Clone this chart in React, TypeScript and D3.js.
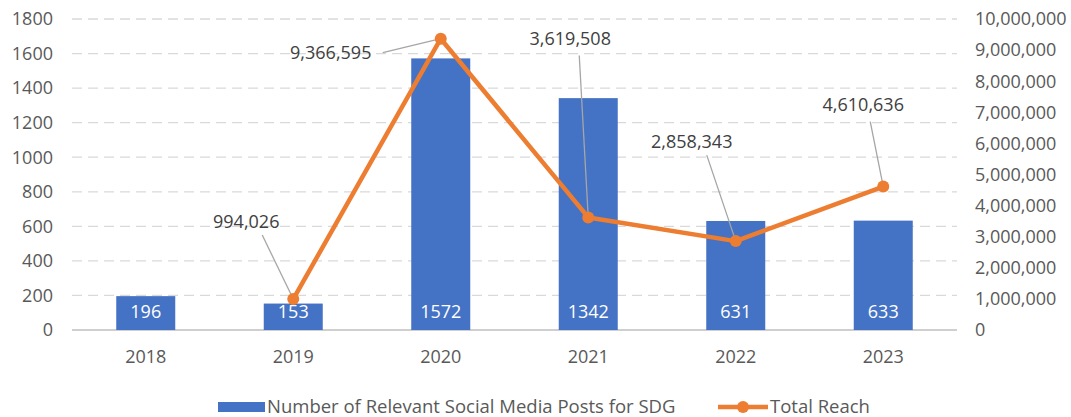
import React from "react";
import * as d3 from "d3";

const years = ["2018", "2019", "2020", "2021", "2022", "2023"];
const posts = [196, 153, 1572, 1342, 631, 633];
const reach = [null, 994026, 9366595, 3619508, 2858343, 4610636];
const leftTicks = [0, 200, 400, 600, 800, 1000, 1200, 1400, 1600, 1800];
const rightTicks = [0, 1000000, 2000000, 3000000, 4000000, 5000000, 6000000, 7000000, 8000000, 9000000, 10000000];
const seriesNames = ["Number of Relevant Social Media Posts for SDG", "Total Reach"];

// layout: label center offsets and leader start offsets relative to point
const labelOffsets: ([number, number] | null)[] = [null, [-47, -77], [-110, 14], [-18, -179], [-44, -99], [-20, -82]];
const leaderOffsets: ([number, number] | null)[] = [null, [-31, -64], [-58, 14], [-9, -162], [-29, -86], [-13, -65]];

const W = 1071, H = 417;
const M = { left: 72, right: 957, top: 19, bottom: 330 };
const FONT = "'Open Sans', sans-serif";
const BLUE = "#4472C4", ORANGE = "#ED7D31", TXT = "#595959", GRID = "#D9D9D9";

export default function App() {
  const x = d3.scaleBand().domain(years).range([M.left, M.right]).paddingInner(0.6).paddingOuter(0.3);
  const xc = (y: string) => (x(y) as number) + x.bandwidth() / 2;
  const yL = d3.scaleLinear().domain([0, 1800]).range([M.bottom, M.top]);
  const yR = d3.scaleLinear().domain([0, 10000000]).range([M.bottom, M.top]);
  const fmt = d3.format(",");
  const pts = years.map((yr, i) => ({ yr, v: reach[i], i })).filter((d) => d.v != null) as { yr: string; v: number; i: number }[];
  const line = d3.line<{ yr: string; v: number }>().x((d) => xc(d.yr)).y((d) => yR(d.v));

  return (
    <svg width={W} height={H} style={{ position: "absolute", left: 0, top: 0, background: "#fff" }} fontFamily={FONT}>
      {leftTicks.filter((t) => t > 0).map((t) => (
        <line key={t} x1={M.left} x2={M.right} y1={yL(t)} y2={yL(t)} stroke={GRID} strokeWidth={1.3} strokeDasharray="10,6" />
      ))}
      <line x1={M.left} x2={M.right} y1={M.bottom} y2={M.bottom} stroke="#BFBFBF" strokeWidth={1.3} />
      {leftTicks.map((t) => (
        <text key={t} x={53} y={yL(t)} dy="0.35em" textAnchor="end" fontSize={18} fill={TXT}>{t}</text>
      ))}
      {rightTicks.map((t) => (
        <text key={t} x={975} y={yR(t)} dy="0.35em" textAnchor="start" fontSize={18} fill={TXT}>{fmt(t)}</text>
      ))}
      {years.map((yr) => (
        <text key={yr} x={xc(yr)} y={357} dy="0.35em" textAnchor="middle" fontSize={18} fill={TXT}>{yr}</text>
      ))}
      {years.map((yr, i) => (
        <rect key={yr} x={x(yr)} y={yL(posts[i])} width={x.bandwidth()} height={M.bottom - yL(posts[i])} fill={BLUE} />
      ))}
      {pts.map((d) => {
        const lo = leaderOffsets[d.i]!;
        return <line key={d.yr} x1={xc(d.yr) + lo[0]} y1={yR(d.v) + lo[1]} x2={xc(d.yr)} y2={yR(d.v)} stroke="#A6A6A6" strokeWidth={1.3} />;
      })}
      <path d={line(pts) || ""} fill="none" stroke={ORANGE} strokeWidth={4.5} strokeLinejoin="round" />
      {pts.map((d) => (
        <circle key={d.yr} cx={xc(d.yr)} cy={yR(d.v)} r={6} fill={ORANGE} />
      ))}
      {years.map((yr, i) => (
        <text key={yr} x={xc(yr)} y={312} dy="0.35em" textAnchor="middle" fontSize={18} fill="#fff">{posts[i]}</text>
      ))}
      {pts.map((d) => {
        const o = labelOffsets[d.i]!;
        return (
          <text key={d.yr} x={xc(d.yr) + o[0]} y={yR(d.v) + o[1]} dy="0.35em" textAnchor="middle" fontSize={18} fill="#404040">{fmt(d.v)}</text>
        );
      })}
      <rect x={218} y={402} width={47} height={10} fill={BLUE} />
      <text x={267} y={407} dy="0.35em" fontSize={18.5} fill={TXT}>{seriesNames[0]}</text>
      <line x1={718} x2={768} y1={407} y2={407} stroke={ORANGE} strokeWidth={4.5} />
      <circle cx={743} cy={407} r={6} fill={ORANGE} />
      <text x={770} y={407} dy="0.35em" fontSize={18.5} fill={TXT}>{seriesNames[1]}</text>
    </svg>
  );
}
